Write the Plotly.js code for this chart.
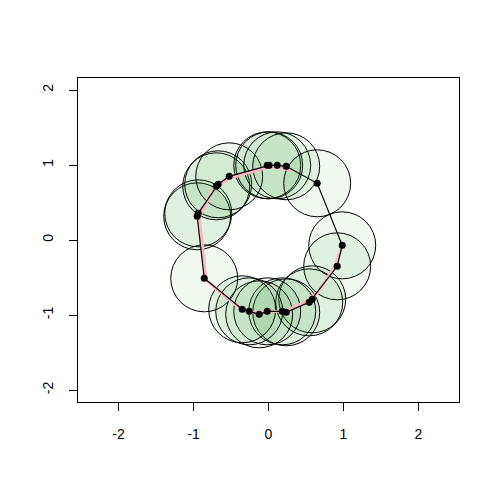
<!DOCTYPE html>
<html>
<head>
<meta charset="utf-8">
<script src="https://cdn.plot.ly/plotly-3.0.1.min.js"></script>
<style>
  body { margin: 0; background: #fff; }
  #plotArea { width: 500px; height: 500px; }
</style>
</head>
<body>
<div id="plotArea"></div>
<script>
// points along the ring, in path order
var ptX = [-0.857, -0.951, -0.937, -0.697, -0.671, -0.524, -0.017, 0.009, 0.116, 0.236,
           0.649, 0.983, 0.916, 0.583, 0.543, 0.236, 0.183, -0.017, -0.124, -0.257, -0.351];
var ptY = [-0.511, 0.316, 0.356, 0.716, 0.743, 0.849, 0.996, 0.996, 0.996, 0.983,
           0.756, -0.071, -0.351, -0.791, -0.831, -0.964, -0.951, -0.951, -0.991, -0.951, -0.924];

// pink curve
var pinkX = [0.985, 0.876, 0.649, 0.476, 0.249, -0.017, -0.257, -0.351, -0.831, -0.924,
             -0.737, -0.524, -0.017, 0.143, 0.303];
var pinkY = [-0.084, -0.364, -0.711, -0.831, -0.937, -0.964, -0.964, -0.937, -0.537, 0.303,
             0.676, 0.823, 0.969, 0.969, 0.929];

var tickVals = [-2, -1, 0, 1, 2];
var tickText = ["-2", "-1", "0", "1", "2"];

// closed black path
var pathX = ptX.concat([ptX[0]]);
var pathY = ptY.concat([ptY[0]]);

var circles = {
    x: ptX, y: ptY,
    mode: "markers",
    type: "scatter",
    hoverinfo: "skip",
    marker: {
        size: 67,
        color: "rgba(0,128,0,0.06)",
        line: {color: "black", width: 1}
    }
};

var pink = {
    x: pinkX, y: pinkY,
    mode: "lines",
    type: "scatter",
    line: {color: "rgb(255,182,193)", width: 3}
};

var path = {
    x: pathX, y: pathY,
    mode: "lines",
    type: "scatter",
    line: {color: "black", width: 1.2}
};

var dots = {
    x: ptX, y: ptY,
    mode: "markers",
    type: "scatter",
    marker: {size: 7, color: "black"}
};

var axisStyle = {
    tickvals: tickVals,
    ticktext: tickText,
    showgrid: false,
    zeroline: false,
    showline: true,
    mirror: true,
    linecolor: "black",
    linewidth: 1,
    ticks: "outside",
    ticklen: 8,
    tickcolor: "black",
    tickfont: {family: "Liberation Sans, Arial, sans-serif", size: 14, color: "black"}
};

var layout = {
    width: 500,
    height: 500,
    margin: {l: 78, r: 41, t: 78, b: 98},
    paper_bgcolor: "white",
    plot_bgcolor: "white",
    showlegend: false,
    xaxis: Object.assign({}, axisStyle, {range: [-2.54, 2.54], ticklabelstandoff: 11}),
    yaxis: Object.assign({}, axisStyle, {range: [-2.16, 2.16], tickangle: -90, ticklabelstandoff: 10})
};

Plotly.newPlot("plotArea", [circles, pink, path, dots], layout, {staticPlot: true});
</script>
</body>
</html>
